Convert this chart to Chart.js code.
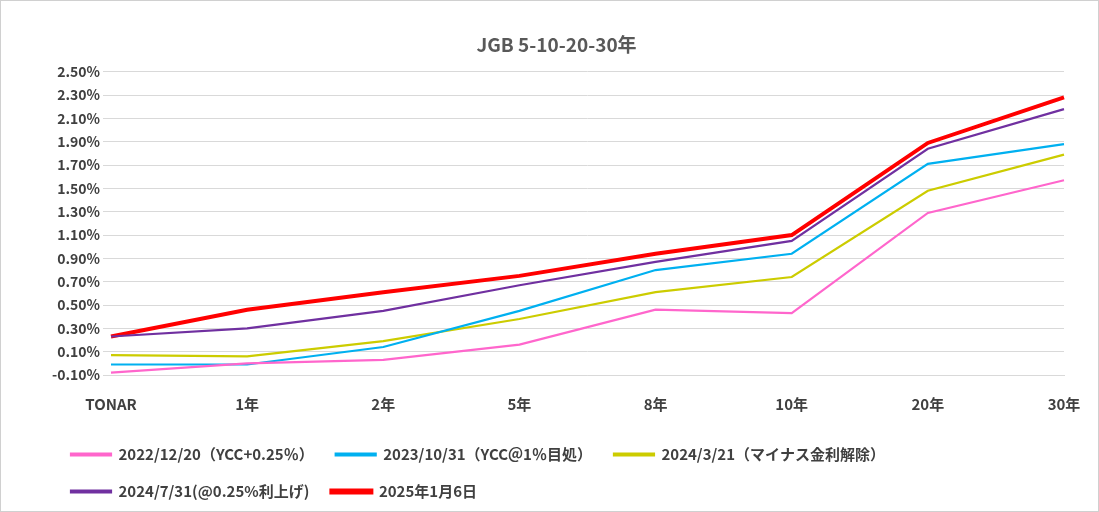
<!DOCTYPE html>
<html><head><meta charset="utf-8">
<script src="https://cdn.jsdelivr.net/npm/chart.js@4"></script>
<style>body{margin:0;background:#fff}#w{width:1097px;height:510px;border:1px solid #d0d0d0}</style>
</head><body><div id="w"><canvas id="c"></canvas></div>
<script>
const categories=["TONAR","1年","2年","5年","8年","10年","20年","30年"];
const s2022=[-0.08,0.00,0.03,0.16,0.46,0.43,1.29,1.57];
const s2023=[-0.01,-0.01,0.14,0.45,0.80,0.94,1.71,1.88];
const s2024a=[0.07,0.06,0.19,0.38,0.61,0.74,1.48,1.79];
const s2024b=[0.23,0.30,0.45,0.67,0.87,1.05,1.84,2.18];
const s2025=[0.23,0.46,0.61,0.75,0.94,1.10,1.89,2.28];
const names=["2022/12/20（YCC+0.25％）","2023/10/31（YCC＠1％目処）","2024/3/21（マイナス金利解除）","2024/7/31(@0.25%利上げ)","2025年1月6日"];
const colors=["#ff66cc","#00b0f0","#cccc00","#7030a0","#ff0000"];
const data=[s2022,s2023,s2024a,s2024b,s2025];
const font="'Noto Sans CJK JP','Noto Sans',sans-serif";
new Chart(document.getElementById('c'),{type:'line',
data:{labels:categories,datasets:data.map((d,i)=>({label:names[i],data:d,borderColor:colors[i],backgroundColor:colors[i],borderWidth:i==4?4:2.2,pointRadius:0,tension:0}))},
options:{responsive:true,maintainAspectRatio:false,animation:false,
layout:{padding:{left:48,right:34,top:12,bottom:2}},
plugins:{title:{display:true,text:"JGB 5-10-20-30年",color:'#595959',font:{family:font,size:19,weight:'bold'},padding:{top:20,bottom:16}},
legend:{position:'bottom',align:'start',labels:{boxWidth:40,boxHeight:2,color:'#404040',font:{family:font,size:15,weight:'bold'},padding:22}}},
scales:{x:{offset:false,grid:{display:false},border:{color:'#d9d9d9'},ticks:{color:'#404040',font:{family:font,size:15,weight:'bold'},padding:12,maxRotation:0}},
y:{min:-0.10,max:2.50,grid:{color:'#d9d9d9'},border:{display:false},ticks:{stepSize:0.2,color:'#404040',font:{family:font,size:14,weight:'bold'},callback:v=>v.toFixed(2)+'%'}}}}});
</script></body></html>
